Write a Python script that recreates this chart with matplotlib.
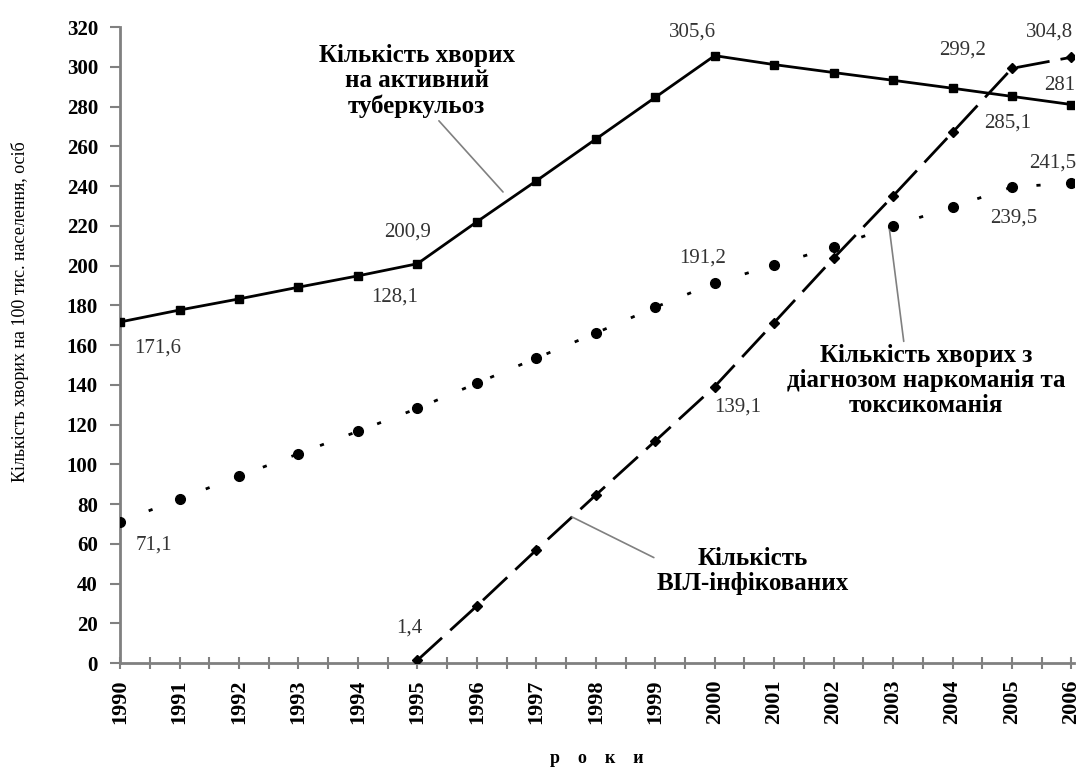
import matplotlib
matplotlib.use('Agg')
import matplotlib.pyplot as plt
import numpy as np

years = list(range(1990, 2007))

tuberculosis = [171.6, 177.6, 183.2, 189.1, 194.8, 200.9, 222.0, 242.6, 263.6, 284.6,
                305.6, 301.1, 297.1, 293.2, 289.2, 285.1, 281.0]
narcomania = [71.1, 82.5, 94.0, 105.3, 116.6, 128.1, 140.8, 153.4, 166.0, 179.0,
              191.2, 200.3, 209.3, 220.0, 229.4, 239.5, 241.5]
hiv_years = list(range(1995, 2007))
hiv = [1.4, 28.7, 56.9, 84.5, 111.7, 139.1, 171.3, 203.7, 235.0, 267.0, 299.2, 304.8]

# value labels: (text, x, y)
value_labels = [
    ('171,6', 1990.64, 158.5), ('200,9', 1994.84, 216.9), ('305,6', 1999.63, 317.5),
    ('285,1', 2004.92, 271.7), ('281', 2005.80, 290.8),
    ('71,1', 1990.57, 59.4), ('128,1', 1994.62, 184.2), ('191,2', 1999.80, 203.8),
    ('239,5', 2005.03, 223.9), ('241,5', 2005.68, 251.6),
    ('1,4', 1994.87, 17.6), ('139,1', 2000.39, 128.8), ('299,2', 2004.17, 308.4),
    ('304,8', 2005.63, 317.5),
]

serif = ['Liberation Serif', 'DejaVu Serif']
plt.rcParams['font.family'] = serif

fig = plt.figure(figsize=(10.82, 7.68), dpi=100)
ax = fig.add_axes([0.111, 0.1367, 0.882, 0.8281])

ax.plot(years, tuberculosis, color='black', lw=2, marker='s', ms=6, zorder=3)
ax.plot(years, narcomania, color='black', lw=2, linestyle=(0, (1.5, 9.5)),
        marker='o', ms=7, zorder=3)
ax.plot(hiv_years, hiv, color='black', lw=2, linestyle=(0, (12, 4)),
        marker='D', ms=5, zorder=3)

for txt, x, y in value_labels:
    ax.text(x, y, txt, ha='center', va='center', fontsize=15, color='#333333')

note = dict(ha='center', va='center', fontsize=18, fontweight='bold', linespacing=1.12)
ax.annotate('Кількість хворих\nна активний\nтуберкульоз', xy=(1996.44, 237), xytext=(1994.99, 292.8),
            arrowprops=dict(arrowstyle='-', color='#808080', lw=1.2,
                            shrinkA=0, shrinkB=0, relpos=(0.6, 0.0)), **note)
ax.annotate('Кількість хворих з\nдіагнозом наркоманія та\nтоксикоманія', xy=(2002.94, 217.9),
            xytext=(2003.56, 142), arrowprops=dict(arrowstyle='-', color='#808080', lw=1.2,
                                                   shrinkA=0, shrinkB=0, relpos=(0.42, 1.0)), **note)
ax.annotate('Кількість\nВІЛ-інфікованих', xy=(1997.6, 73.5), xytext=(2000.64, 46.3),
            arrowprops=dict(arrowstyle='-', color='#808080', lw=1.2,
                            shrinkA=0, shrinkB=0, relpos=(0.0, 0.75)), **note)

ax.set_xlim(1990, 2006.05)
ax.set_ylim(0, 320)
ax.set_xticks(years)
ax.set_xticks(np.arange(1990.5, 2006, 1), minor=True)
ax.set_yticks(range(0, 321, 20))
ax.set_xticklabels([str(y) for y in years], rotation=90, fontsize=16, fontweight='bold')
for lab in ax.get_yticklabels():
    lab.set_fontweight('bold')
    lab.set_fontsize(15)
ax.tick_params(axis='x', which='both', direction='inout', length=8, width=1.5,
               color='#808080', pad=8)
ax.tick_params(axis='y', direction='out', length=7, width=1.5, color='#808080', pad=9)

for side in ['top', 'right']:
    ax.spines[side].set_visible(False)
for side in ['left', 'bottom']:
    ax.spines[side].set_color('#808080')
    ax.spines[side].set_linewidth(2)

ax.set_ylabel('Кількість хворих на 100 тис. населення, осіб', fontsize=13)
ax.yaxis.set_label_coords(-0.095, 0.552)
ax.set_xlabel('р    о    к    и', fontsize=13, fontweight='bold')
ax.xaxis.set_label_coords(0.499, -0.136)

fig.savefig('out.png', dpi=100)
